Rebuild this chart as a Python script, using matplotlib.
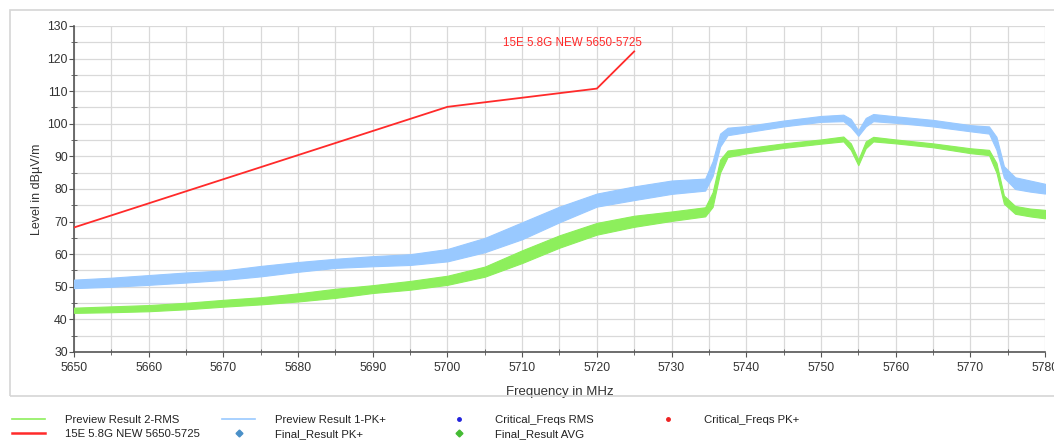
import numpy as np
import matplotlib
matplotlib.use("Agg")
import matplotlib.pyplot as plt
from matplotlib.lines import Line2D
from matplotlib.patches import Rectangle

plt.rcParams['font.family'] = ['Liberation Sans', 'DejaVu Sans']

# limit line (15E 5.8G NEW 5650-5725)
limit_freq = [5650, 5700, 5720, 5725]
limit_level = [68.2, 105.2, 110.8, 122.2]

# Preview Result 1-PK+ : lower / upper envelope of the noisy trace
pk_freq = [5650, 5655, 5660, 5665, 5670, 5675, 5680, 5685, 5690, 5695, 5700, 5705,
           5710, 5715, 5720, 5725, 5730, 5734.5, 5735.5, 5736.5, 5737.5, 5740, 5745,
           5750, 5753, 5754, 5755, 5756, 5757, 5760, 5765, 5770, 5772.5, 5773.5,
           5774.5, 5776, 5778, 5780]
pk_low = [49.6, 50.0, 50.6, 51.3, 52.1, 53.2, 54.6, 55.8, 56.3, 56.7, 57.8, 60.6,
          64.6, 69.8, 74.6, 76.6, 78.5, 79.5, 84.0, 93.0, 96.5, 97.4, 99.2,
          100.6, 100.8, 99.0, 96.3, 99.2, 100.8, 100.3, 99.2, 97.7, 97.0, 92.0,
          83.5, 80.0, 79.2, 78.6]
pk_high = [52.2, 52.8, 53.6, 54.4, 55.0, 56.4, 57.6, 58.6, 59.4, 60.0, 61.6, 65.0,
           69.8, 74.6, 78.6, 80.8, 82.6, 83.2, 88.5, 97.0, 98.8, 99.3, 101.0,
           102.4, 102.8, 101.5, 98.0, 101.8, 103.0, 102.3, 101.2, 99.6, 99.2, 96.0,
           87.0, 83.6, 82.6, 81.6]

# Preview Result 2-RMS : lower / upper envelope
rms_freq = [5650, 5655, 5660, 5665, 5670, 5675, 5680, 5685, 5690, 5695, 5700, 5705,
            5710, 5715, 5720, 5725, 5730, 5734.5, 5735.5, 5736.5, 5737.5, 5740, 5745,
            5750, 5753, 5754, 5755, 5756, 5757, 5760, 5765, 5770, 5772.5, 5773.5,
            5774.5, 5776, 5778, 5780]
rms_low = [42.0, 42.2, 42.5, 43.1, 43.9, 44.6, 45.5, 46.6, 48.1, 49.1, 50.6, 53.1,
           57.3, 62.0, 66.0, 68.4, 70.2, 71.6, 74.5, 85.0, 89.8, 90.9, 92.6,
           93.9, 94.6, 92.0, 87.3, 92.5, 94.6, 94.0, 92.8, 91.0, 90.4, 85.0,
           75.5, 72.4, 71.6, 71.0]
rms_high = [43.6, 44.0, 44.4, 45.1, 46.0, 46.8, 48.0, 49.4, 50.5, 51.8, 53.4, 56.2,
            61.2, 65.8, 69.6, 71.8, 73.1, 74.4, 79.0, 89.0, 91.8, 92.5, 94.0,
            95.2, 96.1, 94.0, 89.0, 94.6, 96.0, 95.2, 94.0, 92.5, 92.0, 88.0,
            78.0, 74.8, 74.0, 73.6]

red = '#ff2a2a'
blue = '#99c9ff'
green = '#8def5c'
grid_c = '#d9d9d9'
text_c = '#333333'

W, H = 1054, 442
fig = plt.figure(figsize=(W / 100, H / 100), dpi=100)
fig.patches.append(Rectangle((10 / W, 1 - 396 / H), 1.0, 386 / H,
                             transform=fig.transFigure, fill=False,
                             edgecolor='#d6d6d6', linewidth=1.2))

ax = fig.add_axes([74 / W, 1 - 352 / H, 971 / W, 326 / H])

ax.fill_between(pk_freq, pk_low, pk_high, color=blue, linewidth=0.8, edgecolor=blue, zorder=3)
ax.fill_between(rms_freq, rms_low, rms_high, color=green, linewidth=0.8, edgecolor=green, zorder=4)
ax.plot(limit_freq, limit_level, color=red, linewidth=1.3, zorder=5)
ax.text(5716.7, 123.0, '15E 5.8G NEW 5650-5725', color=red, fontsize=8.4, ha='center', va='bottom')

ax.set_xlim(5650, 5780)
ax.set_ylim(30, 130)
ax.set_xticks(np.arange(5650, 5781, 10))
ax.set_xticks(np.arange(5650, 5781, 5), minor=True)
ax.set_yticks(np.arange(30, 131, 10))
ax.set_yticks(np.arange(30, 131, 5), minor=True)
ax.grid(True, which='both', color=grid_c, linewidth=0.9, zorder=0)
ax.set_axisbelow(True)

for s in ['top', 'right']:
    ax.spines[s].set_visible(False)
for s in ['left', 'bottom']:
    ax.spines[s].set_color('#555555')
    ax.spines[s].set_linewidth(1.2)
ax.tick_params(which='major', direction='out', length=3.5, color='#555555', labelsize=8.8,
               labelcolor=text_c)
ax.tick_params(axis='y', which='major', pad=1)
ax.tick_params(axis='x', which='major', pad=4)
ax.tick_params(which='minor', direction='inout', length=4, color='#555555')

ax.set_xlabel('Frequency in MHz', fontsize=9.5, color=text_c, labelpad=8)
ax.set_ylabel('Level in dBµV/m', fontsize=9, color=text_c, labelpad=3)

# legend, four columns laid out like the reference
legend_cols = [
    (12, [(Line2D([], [], color=green, linewidth=1.2), 'Preview Result 2-RMS'),
          (Line2D([], [], color=red, linewidth=1.8), '15E 5.8G NEW 5650-5725')]),
    (222, [(Line2D([], [], color=blue, linewidth=1.2), 'Preview Result 1-PK+'),
           (Line2D([], [], color='#4a90c8', marker='D', linestyle='none', markersize=3.5),
            'Final_Result PK+')]),
    (442, [(Line2D([], [], color='#2222dd', marker='o', linestyle='none', markersize=2.5),
            'Critical_Freqs RMS'),
           (Line2D([], [], color='#44bb33', marker='D', linestyle='none', markersize=3.5),
            'Final_Result AVG')]),
    (651, [(Line2D([], [], color='#ee2222', marker='o', linestyle='none', markersize=2.5),
            'Critical_Freqs PK+')]),
]
for x0, items in legend_cols:
    leg = fig.legend([h for h, _ in items], [t for _, t in items], loc='upper left',
                     bbox_to_anchor=(x0 / W, 1 - 415 / H), frameon=False, fontsize=8.2,
                     handlelength=2.9, handletextpad=1.75, labelspacing=0.35,
                     borderaxespad=0, borderpad=0)
    for t in leg.get_texts():
        t.set_color('#222222')

fig.savefig('out.png', dpi=100)
